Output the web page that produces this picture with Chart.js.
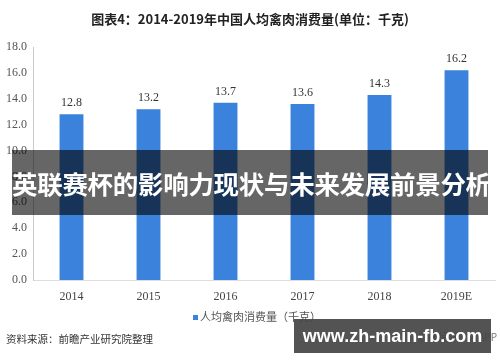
<!DOCTYPE html>
<html><head><meta charset="utf-8">
<script src="https://cdn.jsdelivr.net/npm/chart.js@4"></script>
<style>
html,body{margin:0;padding:0;background:#fff;}
#wrap{position:relative;width:500px;height:362px;overflow:hidden;font-family:"Noto Sans CJK SC",sans-serif;}
canvas{position:absolute;left:0;top:0;}
.abs{position:absolute;white-space:nowrap;}
#title{left:0;width:500px;top:10px;text-align:center;font-size:13px;font-weight:bold;color:#222;line-height:18px;}
#banner{left:12px;top:150px;width:476px;height:65px;background:rgba(0,0,0,0.6);color:#fff;font-weight:bold;font-size:25.5px;line-height:65px;text-align:center;letter-spacing:-0.3px;}
#legend{left:193px;top:308px;font-size:11px;color:#555;line-height:16px;}
#legend span.sw{display:inline-block;width:5px;height:5px;background:#3b82dc;margin-right:2px;vertical-align:middle;position:relative;top:-1px;}
#source{left:6px;top:331px;font-size:10.5px;color:#333;line-height:15px;}
#app{right:3px;top:330px;font-size:10px;color:#777;line-height:14px;}
#site{left:294px;top:319px;width:197px;height:34px;background:rgba(70,70,70,0.93);color:#fff;font-family:"Liberation Sans",Arial,sans-serif;font-weight:bold;font-size:18px;line-height:34px;text-align:center;}
</style></head>
<body>
<div id="wrap">
<canvas id="c" width="500" height="362"></canvas>
<div class="abs" id="title">图表4：2014-2019年中国人均禽肉消费量(单位：千克)</div>
<div class="abs" id="banner">英联赛杯的影响力现状与未来发展前景分析</div>
<div class="abs" id="legend"><span class="sw"></span>人均禽肉消费量（千克）</div>
<div class="abs" id="source">资料来源：前瞻产业研究院整理</div>
<div class="abs" id="app">前瞻经济学人APP</div>
<div class="abs" id="site">www.zh-main-fb.com</div>
</div>
<script>
const categories = ["2014","2015","2016","2017","2018","2019E"];
const consumption = [12.8, 13.2, 13.7, 13.6, 14.3, 16.2];
const yTicks = [0,2,4,6,8,10,12,14,16,18];

const valueLabels = {
  id:'valueLabels',
  afterDatasetsDraw(chart){
    const ctx = chart.ctx;
    const meta = chart.getDatasetMeta(0);
    ctx.save();
    ctx.font = '12px "Liberation Serif", serif';
    ctx.fillStyle = '#333';
    ctx.textAlign = 'center';
    ctx.textBaseline = 'bottom';
    meta.data.forEach((bar,i)=>{
      ctx.fillText(consumption[i].toFixed(1), bar.x, bar.y - 5);
    });
    ctx.restore();
  }
};

new Chart(document.getElementById('c'), {
  type:'bar',
  data:{labels:categories, datasets:[{label:'人均禽肉消费量（千克）', data:consumption, backgroundColor:'#3b82dc', borderWidth:0, categoryPercentage:1, barPercentage:0.31}]},
  options:{
    responsive:false, animation:false,
    layout:{padding:{left:0,right:5,top:47,bottom:54}},
    plugins:{legend:{display:false}, title:{display:false}, tooltip:{enabled:false}},
    scales:{
      x:{
        grid:{display:false, drawTicks:false},
        border:{display:true,color:'#ddd'},
        ticks:{color:'#444', font:{family:'"Liberation Serif", serif', size:12}, padding:10},
        afterFit(s){ s.height = 28; }
      },
      y:{
        min:0, max:18,
        afterBuildTicks(s){ s.ticks = yTicks.map(v=>({value:v})); },
        grid:{display:false, drawTicks:false},
        border:{display:true,color:'#ccc'},
        ticks:{color:'#555', font:{family:'"Liberation Serif", serif', size:12}, padding:6, callback:v=>Number(v).toFixed(1)},
        afterFit(s){ s.width = 33; }
      }
    }
  },
  plugins:[valueLabels]
});
</script>
</body></html>
